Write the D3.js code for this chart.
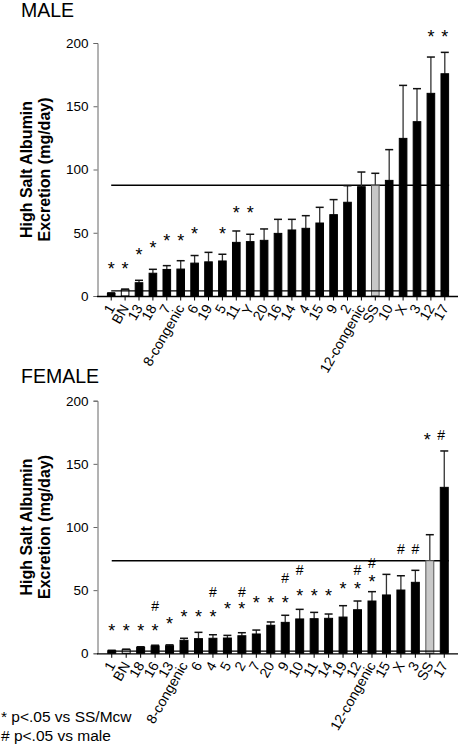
<!DOCTYPE html>
<html><head><meta charset="utf-8">
<script src="https://cdn.jsdelivr.net/npm/d3@7"></script>
<style>
html,body{margin:0;padding:0;background:#fff;}
svg{display:block;font-family:"Liberation Sans",Arial,sans-serif;}
</style></head>
<body>
<script>
// ---------- DATA ----------
const maleCategories = ["1","BN","13","18","7","8-congenic","6","19","5","11","Y","20","16","14","4","15","9","2","12-congenic","SS","10","X","3","12","17"];
const maleValues = [2, 5, 10.5, 18, 21, 21.3, 26, 27, 27.7, 42.4, 43, 44, 49.5, 52.2, 53.5, 57.7, 64.3, 74.1, 86.4, 87.5, 91.4, 124.6, 137.8, 160.2, 175.7];
const maleErrors = [0.5, 0.5, 1.9, 3.1, 3, 6.6, 6, 7.5, 5.3, 9, 5.8, 9, 11.1, 8.4, 10, 12.4, 11.9, 13.1, 11.6, 9.5, 24.3, 41.9, 26.1, 28.7, 16.9];
// level (mg/day) at which the "*" mark sits; null = no mark
const maleStarLevels = [24.5, 24.5, 35.6, 41.1, 46.9, 46.9, 52.2, null, 52.2, 68.8, 68.8, null, null, null, null, null, null, null, null, null, null, null, null, 208.5, 208.5];
const maleHashLevels = maleCategories.map(() => null);

const femaleCategories = ["1","BN","18","16","13","8-congenic","6","4","5","2","7","20","9","10","11","14","19","12","12-congenic","15","X","3","SS","17"];
const femaleValues = [2, 2.9, 4.7, 5.8, 6, 10.3, 11.6, 11.9, 12.1, 13.9, 15.3, 22.2, 24.5, 27.2, 27.4, 27.7, 28.7, 34.5, 41.4, 46.2, 50.1, 56.2, 73.3, 131.4];
const femaleErrors = [0.4, 0.4, 0.5, 0.6, 0.7, 1.6, 5, 2.8, 2.1, 2.4, 3.1, 2.6, 5.6, 7.6, 5, 3.4, 9, 6.9, 7.4, 16.3, 11.3, 9.5, 20.6, 28.8];
const femaleStarLevels = [21.1, 21.1, 21.1, 21.1, 26.9, 32.5, 32.5, 32.5, 38.2, 38.2, 43.5, 43.5, 43.5, 49.1, 49.1, 49.1, 54.6, 54.6, 60.2, null, null, null, null, 172.6];
const femaleHashLevels = [null, null, null, 37.2, null, null, null, 48.5, null, 48.5, null, null, 59.9, 65.7, null, null, null, 65.7, 71.7, null, 82.3, 82.3, null, 172.6];

const yTicks = [0, 50, 100, 150, 200];
const refLow = { male: 4, female: 1.8 };
const panelTitles = ["MALE", "FEMALE"];
const yAxisLines = ["High Salt Albumin", "Excretion (mg/day)"];
const footnotes = ["* p<.05 vs SS/Mcw", "# p<.05 vs male"];

// ---------- DRAW ----------
const W = 460, H = 744;
const svg = d3.select("body").append("svg").attr("width", W).attr("height", H);

function panel(opts) {
  const { cats, vals, errs, stars, hashes, y0, y1, title, titleY, low } = opts;
  const g = svg.append("g");
  const x = d3.scaleBand().domain(cats).range([98, 458]).paddingInner(0.38).paddingOuter(0.64);
  const y = d3.scaleLinear().domain([0, 200]).range([y0, y1]);

  // title
  g.append("text").attr("x", 21).attr("y", titleY).attr("font-size", 19.5).attr("fill", "#000").text(title);

  // y axis label
  const midY = (y0 + y1) / 2;
  yAxisLines.forEach((t, i) => {
    g.append("text")
      .attr("transform", `translate(${32 + i * 18},${midY}) rotate(-90)`)
      .attr("text-anchor", "middle").attr("font-size", 16).attr("font-weight", "bold")
      .text(t);
  });

  // SS reference line
  const ssIdx = cats.indexOf("SS");
  const xStart = x(cats[0]) + x.bandwidth() / 2;
  const xEnd = x(cats[cats.length - 1]) + x.bandwidth();
  g.append("line").attr("x1", xStart).attr("x2", xEnd)
    .attr("y1", y(vals[ssIdx])).attr("y2", y(vals[ssIdx]))
    .attr("stroke", "#000").attr("stroke-width", 1.5);

  // error bars
  const eb = g.append("g");
  cats.forEach((c, i) => {
    const cx = x(c) + x.bandwidth() / 2;
    const top = y(vals[i] + errs[i]);
    eb.append("line").attr("x1", cx).attr("x2", cx).attr("y1", y(vals[i])).attr("y2", top)
      .attr("stroke", "#333").attr("stroke-width", 1.3);
    eb.append("line").attr("x1", cx - 4).attr("x2", cx + 4).attr("y1", top).attr("y2", top)
      .attr("stroke", "#111").attr("stroke-width", 1.5);
  });

  // bars
  g.append("g").selectAll("rect").data(cats).join("rect")
    .attr("x", d => x(d) + 0.5)
    .attr("width", x.bandwidth() - 1)
    .attr("y", (d, i) => y(vals[i]))
    .attr("height", (d, i) => y(0) - y(vals[i]))
    .attr("fill", d => d === "BN" ? "#fff" : d === "SS" ? "#c8c8c8" : "#000")
    .attr("stroke", d => d === "SS" ? "#555" : "#000")
    .attr("stroke-width", 1);

  // low reference line
  g.append("line").attr("x1", xStart).attr("x2", xEnd)
    .attr("y1", y(low)).attr("y2", y(low))
    .attr("stroke", "#000").attr("stroke-width", 1.2);

  // axes
  const ya = g.append("g").attr("transform", "translate(97.5,0)")
    .call(d3.axisLeft(y).tickValues(yTicks).tickSize(4).tickPadding(5));
  ya.select(".domain").attr("stroke", "#666");
  ya.selectAll(".tick line").attr("stroke", "#666");
  ya.selectAll(".tick text").attr("font-size", 13.5).attr("fill", "#000")
    .attr("font-family", '"Liberation Sans",Arial,sans-serif');

  const xa = g.append("g").attr("transform", `translate(0,${y0 + 0.5})`)
    .call(d3.axisBottom(x).tickSize(4).tickSizeOuter(0).tickFormat(""));
  xa.select(".domain").attr("d", `M97,0H458`).attr("stroke", "#000").attr("stroke-width", 1.3);
  xa.selectAll(".tick line").attr("stroke", "#000");

  // x labels
  g.append("g").selectAll("text").data(cats).join("text")
    .attr("transform", d => `translate(${x(d) + x.bandwidth() / 2 - 4.5},${y0 + 7}) rotate(-60)`)
    .attr("text-anchor", "end").attr("dy", "0.72em").attr("font-size", 14).attr("fill", "#000")
    .text(d => d);

  // significance marks
  const mk = g.append("g").attr("fill", "#000");
  cats.forEach((c, i) => {
    const cx = x(c) + x.bandwidth() / 2;
    const s = stars[i], h = hashes[i];
    if (s != null && h != null && s === h) {
      mk.append("text").attr("x", cx - 17).attr("y", y(s) + 0.57 * 18).attr("text-anchor", "middle").attr("font-size", 18).text("*");
      mk.append("text").attr("x", cx - 3).attr("y", y(h) + 0.36 * 14).attr("text-anchor", "middle").attr("font-size", 14).text("#");
      return;
    }
    if (s != null) mk.append("text").attr("x", cx).attr("y", y(s) + 0.57 * 18).attr("text-anchor", "middle").attr("font-size", 18).text("*");
    if (h != null) mk.append("text").attr("x", cx).attr("y", y(h) + 0.36 * 14).attr("text-anchor", "middle").attr("font-size", 14).text("#");
  });
}

panel({ cats: maleCategories, vals: maleValues, errs: maleErrors, stars: maleStarLevels, hashes: maleHashLevels,
  y0: 296, y1: 43, title: panelTitles[0], titleY: 16.5, low: refLow.male });
panel({ cats: femaleCategories, vals: femaleValues, errs: femaleErrors, stars: femaleStarLevels, hashes: femaleHashLevels,
  y0: 653.3, y1: 400.7, title: panelTitles[1], titleY: 382.7, low: refLow.female });

footnotes.forEach((t, i) => {
  svg.append("text").attr("x", 1).attr("y", 722 + i * 18.5).attr("font-size", 15.5).attr("fill", "#000").text(t);
});
</script>
</body></html>
